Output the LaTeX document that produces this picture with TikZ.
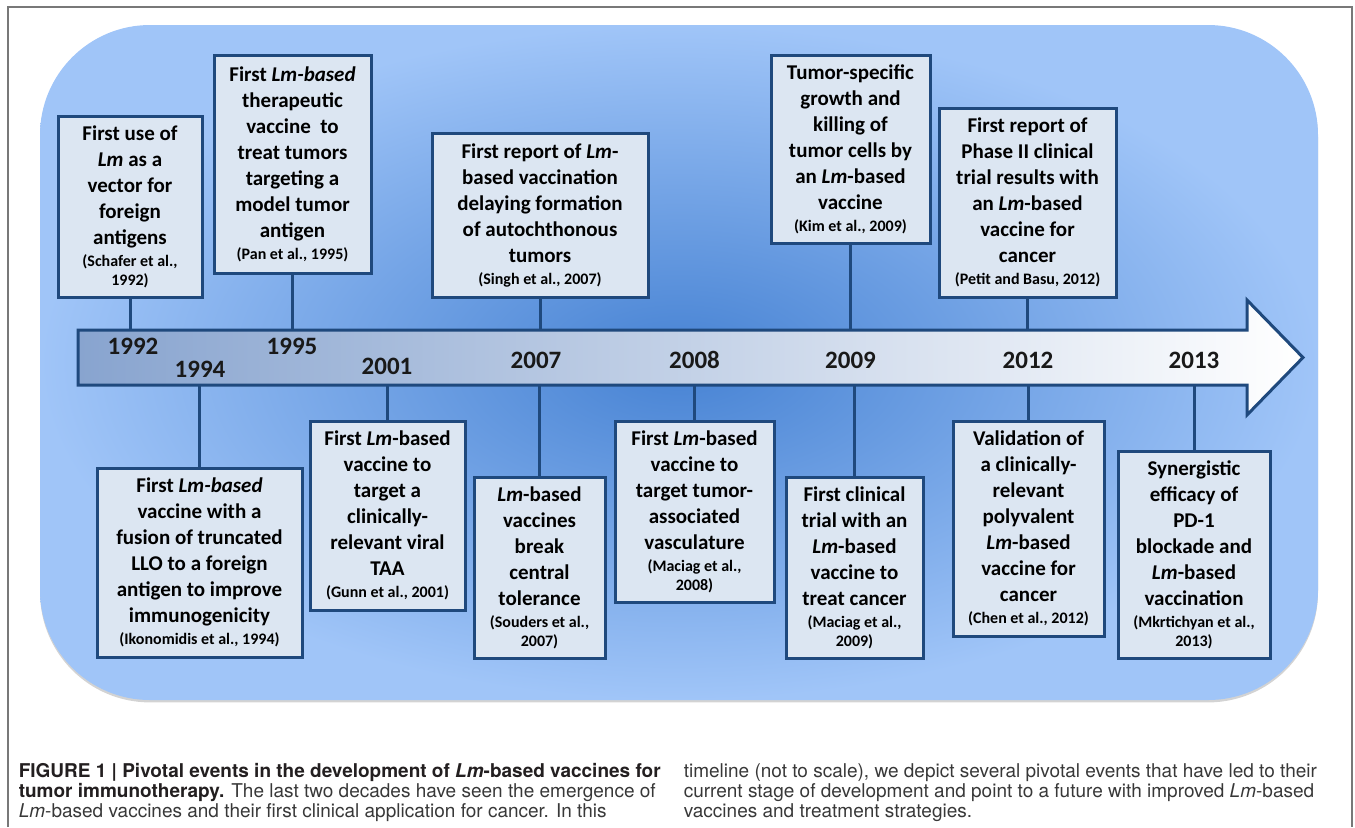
\documentclass[tikz,border=0pt]{standalone}
\usepackage{fontspec}
\setmainfont{Carlito}
\newfontfamily\capfont{TeX Gyre Heros}
\usepackage{xcolor}
\usepackage{tikz}
\usetikzlibrary{shadows}

\definecolor{boxline}{RGB}{31,73,125}
\definecolor{boxfill}{RGB}{220,230,242}
\definecolor{bgin}{RGB}{70,130,211}
\definecolor{bgout}{RGB}{160,197,248}
\definecolor{arrowleft}{RGB}{136,164,207}
\definecolor{arrowmid}{RGB}{180,199,228}
\definecolor{framegray}{RGB}{120,120,120}
\definecolor{captext}{RGB}{35,31,32}

\newcommand{\lm}{\textit{Lm}}
\newcommand{\cit}[1]{{\fontsize{8}{9}\selectfont #1}}

\begin{document}
\begin{tikzpicture}[x=0.5pt, y=-0.5pt, thick]
    \tikzstyle{eventbox} = [rectangle, draw=boxline, line width=1.5pt, fill=boxfill, align=center, inner sep=2pt, font=\bfseries\fontsize{10.5}{13}\selectfont]
    \tikzstyle{link} = [draw=boxline, line width=1.5pt]
    \tikzstyle{year} = [font=\bfseries\fontsize{12.5}{14}\selectfont, text=black!90, inner sep=0pt]
    \tikzstyle{capline} = [anchor=base west, inner sep=0pt, font=\capfont\fontsize{9.5}{11}\selectfont, text=black!78]

    \useasboundingbox (0,0) rectangle (1355,827);
    \draw [framegray, line width=0.6pt] (8,827) -- (8,7) -- (1352,7) -- (1352,827);

    % background panel
    \path [rounded corners=55pt, inner color=bgin, outer color=bgout,
           drop shadow={shadow xshift=0pt, shadow yshift=-1.2pt, opacity=0.35}]
        (40,25) rectangle (1318,700);

    % timeline arrow
    \path [draw=boxline, line width=1.5pt, line join=miter, left color=arrowleft, middle color=arrowmid, right color=white]
        (78,330) -- (1247,330) -- (1247,300) -- (1303,357.5) -- (1247,415) -- (1247,385) -- (78,385) -- cycle;
    \coordinate (bartop) at (0,330);
    \coordinate (barbot) at (0,385);

    \node [year] (y1992) at (133,346) {1992};
    \node [year] (y1994) at (200,369) {1994};
    \node [year] (y1995) at (292,346) {1995};
    \node [year] (y2001) at (387,366) {2001};
    \node [year] (y2007) at (536,360) {2007};
    \node [year] (y2008) at (694.5,360) {2008};
    \node [year] (y2009) at (850.5,360) {2009};
    \node [year] (y2012) at (1028,360) {2012};
    \node [year] (y2013) at (1194,360) {2013};

    % events above
    \node [eventbox, minimum width=72pt, minimum height=90.5pt] (schafer) at (130,206.5)
        {First use of\\ \lm{} as a\\ vector for\\ foreign\\ antigens\\[-2pt] \cit{(Schafer et al.,}\\[-3.5pt] \cit{1992)}};
    \node [eventbox, minimum width=78.5pt, minimum height=109pt] (pan) at (292.5,164)
        {First \textit{Lm-based}\\ therapeutic\\ vaccine\ \ to\\ treat tumors\\ targeting a\\ model tumor\\ antigen\\[-2pt] \cit{(Pan et al., 1995)}};
    \node [eventbox, minimum width=108pt, minimum height=82pt] (singh) at (540,215)
        {First report of \lm-\\ based vaccination\\ delaying formation\\ of autochthonous\\ tumors\\[-2pt] \cit{(Singh et al., 2007)}};
    \node [eventbox, minimum width=79.5pt, minimum height=94pt] (kim) at (850.5,149)
        {Tumor-specific\\ growth and\\ killing of\\ tumor cells by\\ an \lm-based\\ vaccine\\[-2pt] \cit{(Kim et al., 2009)}};
    \node [eventbox, minimum width=88.5pt, minimum height=94.5pt] (petit) at (1027.5,202.5)
        {First report of\\ Phase II clinical\\ trial results with\\ an \lm-based\\ vaccine for\\ cancer\\[-2pt] \cit{(Petit and Basu, 2012)}};

    % events below
    \node [eventbox, minimum width=102.5pt, minimum height=94.5pt] (ikonomidis) at (199.5,562.5)
        {First \textit{Lm-based}\\ vaccine with a\\ fusion of truncated\\ LLO to a foreign\\ antigen to improve\\ immunogenicity\\[-2pt] \cit{(Ikonomidis et al., 1994)}};
    \node [eventbox, minimum width=77.5pt, minimum height=94.5pt] (gunn) at (387.5,515.5)
        {First \lm-based\\ vaccine to\\ target a\\ clinically-\\ relevant viral\\ TAA\\[-2pt] \cit{(Gunn et al., 2001)}};
    \node [eventbox, minimum width=65.5pt, minimum height=90.5pt] (souders) at (539.5,567.5)
        {\lm-based\\ vaccines\\ break\\ central\\ tolerance\\[-2pt] \cit{(Souders et al.,}\\[-3.5pt] \cit{2007)}};
    \node [eventbox, minimum width=79.5pt, minimum height=90.5pt] (maciagA) at (694.5,511.5)
        {First \lm-based\\ vaccine to\\ target tumor-\\ associated\\ vasculature\\[-2pt] \cit{(Maciag et al.,}\\[-3.5pt] \cit{2008)}};
    \node [eventbox, minimum width=68.5pt, minimum height=90.5pt] (maciagB) at (854.5,567.5)
        {First clinical\\ trial with an\\ \lm-based\\ vaccine to\\ treat cancer\\[-2pt] \cit{(Maciag et al.,}\\[-3.5pt] \cit{2009)}};
    \node [eventbox, minimum width=75.5pt, minimum height=107.5pt] (chen) at (1028.5,528.5)
        {Validation of\\ a clinically-\\ relevant\\ polyvalent\\ \lm-based\\ vaccine for\\ cancer\\[-2pt] \cit{(Chen et al., 2012)}};
    \node [eventbox, minimum width=76pt, minimum height=103.5pt] (mkrtichyan) at (1194,554.5)
        {Synergistic\\ efficacy of\\ PD-1\\ blockade and\\ \lm-based\\ vaccination\\[-2pt] \cit{(Mkrtichyan et al.,}\\[-3.5pt] \cit{2013)}};

    \draw [link] (schafer.south) -- (schafer.south |- bartop);
    \draw [link] (pan.south) -- (pan.south |- bartop);
    \draw [link] (singh.south) -- (singh.south |- bartop);
    \draw [link] (kim.south) -- (kim.south |- bartop);
    \draw [link] (petit.south) -- (petit.south |- bartop);
    \draw [link] (ikonomidis.north) -- (ikonomidis.north |- barbot);
    \draw [link] (gunn.north) -- (gunn.north |- barbot);
    \draw [link] (souders.north) -- (souders.north |- barbot);
    \draw [link] (maciagA.north) -- (maciagA.north |- barbot);
    \draw [link] (maciagB.north) -- (maciagB.north |- barbot);
    \draw [link] (chen.north) -- (chen.north |- barbot);
    \draw [link] (mkrtichyan.north) -- (mkrtichyan.north |- barbot);

    % caption
    \node [capline] (cap1) at (18,777) {\color{captext}\bfseries FIGURE 1 | Pivotal events in the development of \textit{Lm}-based vaccines for};
    \node [capline] (cap2) at (18,797) {{\color{captext}\bfseries tumor immunotherapy.} The last two decades have seen the emergence of};
    \node [capline] (cap3) at (18,817) {\textit{Lm}-based vaccines and their first clinical application for cancer. In this};
    \node [capline] (cap4) at (683,777) {timeline (not to scale), we depict several pivotal events that have led to their};
    \node [capline] (cap5) at (683,797) {current stage of development and point to a future with improved \textit{Lm}-based};
    \node [capline] (cap6) at (683,817) {vaccines and treatment strategies.};
\end{tikzpicture}
\end{document}
